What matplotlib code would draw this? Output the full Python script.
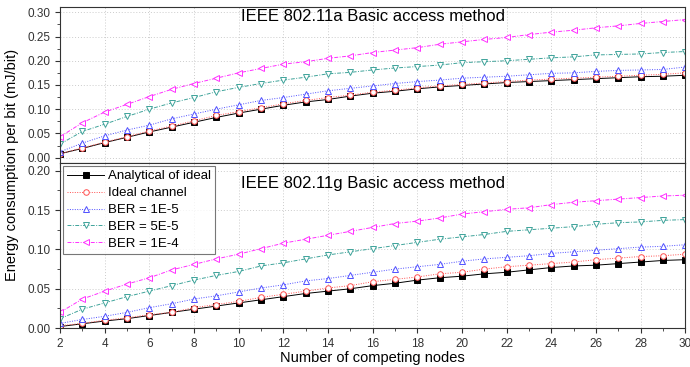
import matplotlib
matplotlib.use("Agg")
import matplotlib.pyplot as plt
from matplotlib.ticker import MultipleLocator

plt.rcParams["font.family"] = ["Liberation Sans", "DejaVu Sans"]

nodes = list(range(2, 31))

# IEEE 802.11a
a_analytical = [0.008, 0.019, 0.031, 0.042, 0.053, 0.063, 0.073, 0.083, 0.092, 0.100,
                0.108, 0.115, 0.120, 0.127, 0.133, 0.137, 0.142, 0.146, 0.149, 0.152,
                0.155, 0.157, 0.159, 0.161, 0.163, 0.165, 0.167, 0.168, 0.170]
a_ideal = [0.008, 0.020, 0.032, 0.043, 0.055, 0.065, 0.076, 0.087, 0.095, 0.103,
           0.111, 0.118, 0.124, 0.129, 0.135, 0.139, 0.144, 0.148, 0.151, 0.154,
           0.157, 0.160, 0.162, 0.164, 0.166, 0.168, 0.170, 0.172, 0.175]
a_ber_1e5 = [0.012, 0.030, 0.045, 0.057, 0.067, 0.080, 0.090, 0.100, 0.109, 0.118,
             0.124, 0.131, 0.138, 0.143, 0.148, 0.153, 0.157, 0.160, 0.164, 0.166,
             0.168, 0.171, 0.174, 0.175, 0.178, 0.180, 0.181, 0.182, 0.187]
a_ber_5e5 = [0.028, 0.054, 0.069, 0.085, 0.100, 0.113, 0.124, 0.136, 0.145, 0.153,
             0.160, 0.166, 0.173, 0.176, 0.181, 0.185, 0.188, 0.191, 0.196, 0.198,
             0.200, 0.203, 0.206, 0.208, 0.212, 0.213, 0.214, 0.217, 0.219]
a_ber_1e4 = [0.043, 0.072, 0.094, 0.110, 0.126, 0.141, 0.153, 0.164, 0.175, 0.184,
             0.193, 0.198, 0.205, 0.210, 0.217, 0.222, 0.227, 0.234, 0.239, 0.244,
             0.248, 0.254, 0.259, 0.263, 0.268, 0.272, 0.277, 0.281, 0.285]

# IEEE 802.11g
g_analytical = [0.002, 0.0055, 0.009, 0.012, 0.016, 0.020, 0.024, 0.028, 0.032, 0.036,
                0.040, 0.044, 0.047, 0.050, 0.054, 0.057, 0.061, 0.064, 0.066, 0.069,
                0.071, 0.074, 0.077, 0.079, 0.080, 0.082, 0.084, 0.086, 0.087]
g_ideal = [0.003, 0.006, 0.010, 0.013, 0.017, 0.020, 0.026, 0.030, 0.034, 0.039,
           0.043, 0.047, 0.051, 0.054, 0.059, 0.062, 0.065, 0.069, 0.071, 0.075,
           0.078, 0.080, 0.082, 0.084, 0.087, 0.089, 0.091, 0.092, 0.094]
g_ber_1e5 = [0.006, 0.011, 0.015, 0.020, 0.026, 0.031, 0.037, 0.041, 0.046, 0.051,
             0.055, 0.060, 0.063, 0.067, 0.071, 0.075, 0.078, 0.081, 0.085, 0.088,
             0.090, 0.092, 0.095, 0.097, 0.099, 0.101, 0.103, 0.104, 0.106]
g_ber_5e5 = [0.012, 0.024, 0.032, 0.040, 0.047, 0.054, 0.061, 0.067, 0.072, 0.079,
             0.083, 0.088, 0.093, 0.097, 0.101, 0.105, 0.109, 0.113, 0.116, 0.119,
             0.123, 0.125, 0.127, 0.129, 0.132, 0.134, 0.135, 0.137, 0.138]
g_ber_1e4 = [0.020, 0.037, 0.047, 0.056, 0.064, 0.074, 0.081, 0.088, 0.094, 0.101,
             0.108, 0.113, 0.118, 0.123, 0.128, 0.133, 0.136, 0.140, 0.145, 0.148,
             0.151, 0.153, 0.157, 0.160, 0.162, 0.164, 0.166, 0.168, 0.169]

labels = ["Analytical of ideal", "Ideal channel", "BER = 1E-5", "BER = 5E-5", "BER = 1E-4"]
styles = [
    dict(color="black", linestyle="-", marker="s", mfc="black", lw=0.7),
    dict(color="#ff5050", linestyle=(0, (1, 1.5)), marker="o", mfc="white", lw=0.7),
    dict(color="#5050ff", linestyle=(0, (1, 1.5)), marker="^", mfc="white", lw=0.7),
    dict(color="#3fa39a", linestyle=(0, (4, 1.5, 1, 1.5)), marker="v", mfc="white", lw=0.7),
    dict(color="#ff30ff", linestyle=(0, (4, 1.5, 1, 1.5)), marker="<", mfc="white", lw=0.7),
]

fig = plt.figure(figsize=(6.9, 3.67), dpi=100)
ax_a = fig.add_axes([0.087, 0.556, 0.906, 0.425])
ax_g = fig.add_axes([0.087, 0.106, 0.906, 0.450])


def draw(ax, series, title, title_y):
    for values, label, st in zip(series, labels, styles):
        ax.plot(nodes, values, label=label, ms=4, mew=0.7, **st)
    ax.set_xlim(2, 30)
    ax.xaxis.set_major_locator(MultipleLocator(2))
    ax.xaxis.set_minor_locator(MultipleLocator(1))
    ax.yaxis.set_major_locator(MultipleLocator(0.05))
    ax.yaxis.set_minor_locator(MultipleLocator(0.025))
    ax.grid(True, which="major", color="#cccccc", linestyle=(0, (1, 2)), lw=0.7)
    ax.tick_params(which="both", direction="out", labelsize=8.5, colors="#333333")
    ax.tick_params(which="major", length=3.5)
    ax.tick_params(which="minor", length=2)
    ax.yaxis.set_major_formatter(matplotlib.ticker.FormatStrFormatter("%.2f"))
    for spine in ax.spines.values():
        spine.set_color("#333333")
    ax.text(0.5, title_y, title, transform=ax.transAxes, ha="center", va="top", fontsize=12)


draw(ax_a, [a_analytical, a_ideal, a_ber_1e5, a_ber_5e5, a_ber_1e4],
     "IEEE 802.11a Basic access method", 0.99)
ax_a.set_ylim(-0.011, 0.311)
ax_a.tick_params(axis="x", labelbottom=False)

draw(ax_g, [g_analytical, g_ideal, g_ber_1e5, g_ber_5e5, g_ber_1e4],
     "IEEE 802.11g Basic access method", 0.92)
ax_g.set_ylim(0, 0.21)
ax_g.set_xlabel("Number of competing nodes", fontsize=10.5, labelpad=1)
leg = ax_g.legend(loc="upper left", fontsize=9.5, frameon=True, fancybox=False,
                  borderaxespad=0.25, handlelength=2.8, labelspacing=0.35,
                  handletextpad=0.3, borderpad=0.3)
leg.get_frame().set_edgecolor("#555555")
leg.get_frame().set_linewidth(0.8)

fig.text(0.018, 0.55, "Energy consumption per bit (mJ/bit)", rotation=90,
         ha="center", va="center", fontsize=10.5)

fig.savefig("out.png", dpi=100)
